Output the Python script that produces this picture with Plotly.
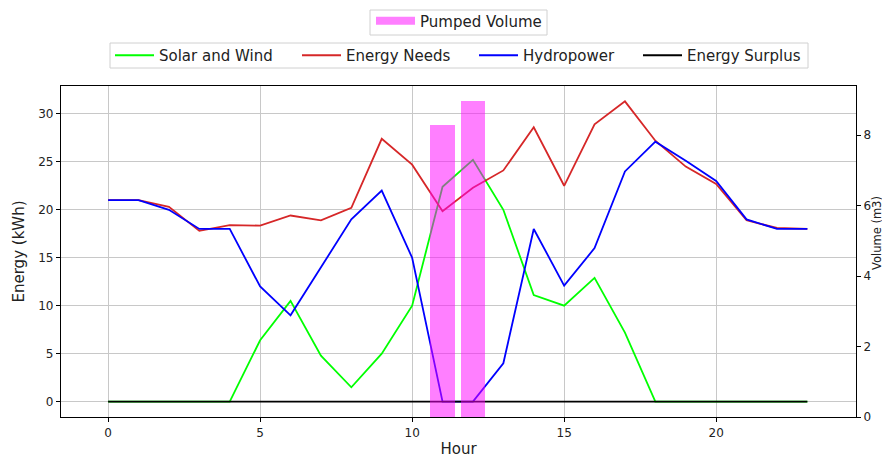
import plotly.graph_objects as go

hours = list(range(24))
solar_wind = [0, 0, 0, 0, 0, 6.4, 10.5, 4.8, 1.5, 5.0, 10.0, 22.4, 25.2, 20.0, 11.1, 10.0, 12.9, 7.2, 0, 0, 0, 0, 0, 0]
energy_needs = [21.0, 21.0, 20.3, 17.8, 18.4, 18.35, 19.4, 18.9, 20.2, 27.4, 24.7, 19.85, 22.3, 24.1, 28.6, 22.5, 28.9, 31.3, 27.2, 24.5, 22.7, 18.9, 18.1, 18.0]
hydropower = [21.0, 21.0, 20.0, 18.0, 18.0, 12.0, 9.0, 14.0, 19.0, 22.0, 15.0, 0, 0, 4.0, 18.0, 12.1, 16.0, 24.0, 27.1, 25.1, 23.0, 19.0, 18.0, 18.0]
energy_surplus = [0] * 24
pump_hours = [11, 12]
pumped_volume = [8.29, 8.97]

FONT = "DejaVu Sans"
TXT = "#222"

# plot area in page pixels (the page body adds an 8px offset)
OFF = 8
PL, PR, PT, PB = 61, 856, 86, 417
PW, PH = PR - PL, PB - PT


def px(sx):
    return (sx - PL) / PW


def py(sy):
    return (PB - sy) / PH


fig = go.Figure()

line_series = [
    ("Solar and Wind", solar_wind, "#00ff00", "legend2"),
    ("Energy Needs", energy_needs, "#d62728", "legend3"),
    ("Hydropower", hydropower, "#0000ff", "legend4"),
    ("Energy Surplus", energy_surplus, "#000000", "legend5"),
]
for name, vals, color, lg in line_series:
    fig.add_trace(go.Scatter(x=hours, y=vals, mode="lines", name=name,
                             line=dict(color=color, width=1.8), legend=lg))

fig.add_trace(go.Bar(x=pump_hours, y=pumped_volume, name="Pumped Volume", width=0.8,
                     marker=dict(color="rgba(255,0,255,0.5)", line=dict(width=0)),
                     yaxis="y2", showlegend=False, legendgroup="pv"))
# legend swatch for the bars (wide rectangle like the reference)
fig.add_trace(go.Scatter(x=[None], y=[None], mode="lines", name="Pumped Volume",
                         line=dict(color="rgba(255,0,255,0.5)", width=8),
                         yaxis="y2", legend="legend", legendgroup="pv"))


def leg(sx, sy):
    return dict(x=px(sx - 5), xanchor="left", y=py(sy), yanchor="middle",
                orientation="h", borderwidth=0, bgcolor="rgba(0,0,0,0)",
                itemwidth=39, font=dict(size=15, color=TXT, family=FONT))


shapes = [
    dict(type="rect", xref="paper", yref="paper", x0=px(370), x1=px(547), y0=py(35), y1=py(10),
         line=dict(color="#d0d0d0", width=1), fillcolor="white", layer="above"),
    dict(type="rect", xref="paper", yref="paper", x0=px(110), x1=px(808), y0=py(68), y1=py(43),
         line=dict(color="#d0d0d0", width=1), fillcolor="white", layer="above"),
]

fig.update_layout(
    width=890 - OFF, height=461 - OFF,
    margin=dict(l=PL - OFF, r=890 - PR, t=PT - OFF, b=461 - PB, autoexpand=False),
    plot_bgcolor="white", paper_bgcolor="white",
    font=dict(family=FONT, size=12, color=TXT),
    showlegend=True,
    xaxis=dict(range=[-1.55, 24.6], tickvals=[0, 5, 10, 15, 20],
               showgrid=True, gridcolor="#c8c8c8", gridwidth=1, zeroline=False,
               showline=True, linecolor="black", linewidth=1.2, mirror=True,
               ticks="outside", ticklen=4, tickcolor="black", automargin=False,
               title=dict(text="Hour", font=dict(size=15, color=TXT), standoff=4)),
    yaxis=dict(range=[-1.6, 32.9], tickvals=[0, 5, 10, 15, 20, 25, 30],
               showgrid=True, gridcolor="#c8c8c8", gridwidth=1, zeroline=False,
               showline=True, linecolor="black", linewidth=1.2, mirror=True,
               ticks="outside", ticklen=4, tickcolor="black", automargin=False,
               title=dict(text="Energy (kWh)", font=dict(size=15, color=TXT), standoff=9)),
    yaxis2=dict(range=[0, 9.39], tickvals=[0, 2, 4, 6, 8], overlaying="y", side="right",
                showgrid=False, zeroline=False, showline=True, linecolor="black", linewidth=1.2,
                ticks="outside", ticklen=4, tickcolor="black", automargin=False),
    annotations=[dict(text="Volume (m3)", xref="paper", yref="paper", x=px(877), y=py(233),
                      xanchor="center", yanchor="middle", textangle=-90, showarrow=False,
                      font=dict(size=11.5, color=TXT))],
    shapes=shapes,
    legend=leg(376, 21),
    legend2=leg(115, 55.5),
    legend3=leg(302, 55.5),
    legend4=leg(479, 55.5),
    legend5=leg(643, 55.5),
    bargap=0,
)

fig.write_html("out.html")
